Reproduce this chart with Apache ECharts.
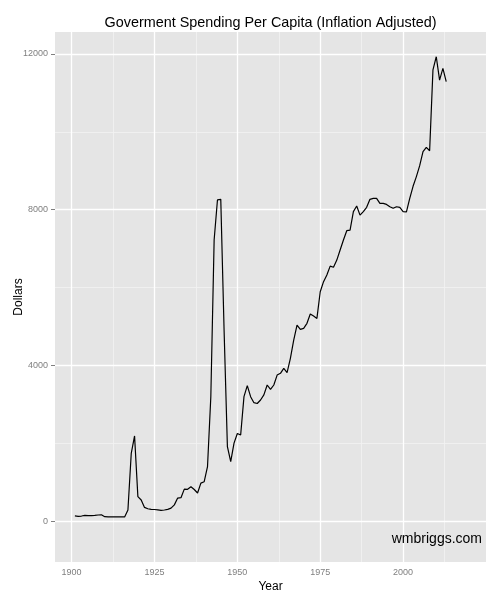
<!DOCTYPE html>
<html>
<head>
<meta charset="utf-8">
<script src="https://cdn.jsdelivr.net/npm/echarts@6/dist/echarts.min.js"></script>
<style>html,body{margin:0;padding:0;background:#fff}#c{width:500px;height:600px}</style>
</head>
<body>
<div id="c"></div>
<script>
// ---- data ----
var years = [];
for (var yr = 1901; yr <= 2013; yr++) years.push(yr);
var spending = [
  130,120,128,145,140,140,145,155,160,112,   // 1901-1910
  108,108,108,108,108,105,285,1740,2185,625, // 1911-1920
  540,350,316,300,296,285,272,283,300,330,   // 1921-1930
  415,590,600,820,815,880,810,720,975,1010,  // 1931-1940
  1395,3195,7220,8250,8265,4900,1910,1525,2000,2250, // 1941-1950
  2210,3195,3480,3195,3040,3020,3110,3240,3495,3380, // 1951-1960
  3495,3750,3795,3920,3810,4180,4650,5035,4925,4950, // 1961-1970
  5080,5320,5265,5205,5890,6150,6320,6550,6520,6705, // 1971-1980
  6965,7220,7460,7475,7950,8095,7860,7950,8060,8265, // 1981-1990
  8290,8290,8160,8160,8135,8075,8035,8075,8060,7950, // 1991-2000
  7945,8290,8600,8850,9130,9490,9600,9515,11590,11930, // 2001-2010
  11330,11630,11290                                   // 2011-2013
];
var xTicks = [1900, 1925, 1950, 1975, 2000];
var xMinor = [1912.5, 1937.5, 1962.5, 1987.5, 2012.5];
var yTicks = [0, 4000, 8000, 12000];
var yMinor = [2000, 6000, 10000];
var titleText = 'Goverment Spending Per Capita (Inflation Adjusted)';
var xName = 'Year', yName = 'Dollars', credit = 'wmbriggs.com';

// ---- chart ----
var points = years.map(function (y, i) { return [y, spending[i]]; });
var FONT = '"Liberation Sans", Arial, Helvetica, sans-serif';
var chart = echarts.init(document.getElementById('c'), null, {renderer: 'canvas'});

function gridLines(vals, key) { return vals.map(function (v) { var o = {}; o[key] = v; return o; }); }

chart.setOption({
  animation: false,
  backgroundColor: '#ffffff',
  textStyle: {fontFamily: FONT},
  grid: {left: 55, right: 14, top: 32, bottom: 38, show: true, backgroundColor: '#E5E5E5', borderWidth: 0},
  graphic: [
    {type: 'text', z: 100, x: 270.5, y: 23, style: {text: titleText, textAlign: 'center', textVerticalAlign: 'middle', font: '14.4px ' + FONT, fill: '#000'}},
    {type: 'text', z: 100, x: 482, y: 539, style: {text: credit, textAlign: 'right', textVerticalAlign: 'middle', font: '14px ' + FONT, fill: '#000'}}
  ],
  xAxis: {
    type: 'value', min: 1895, max: 2025,
    name: xName, nameLocation: 'middle', nameGap: 19, nameMoveOverlap: false,
    nameTextStyle: {fontSize: 12, color: '#000', fontFamily: FONT},
    axisLine: {show: false},
    axisTick: {show: true, length: 4, lineStyle: {color: '#7F7F7F'}, customValues: xTicks},
    axisLabel: {color: '#7F7F7F', fontSize: 9, margin: 6, customValues: xTicks, formatter: function (v) { return String(v); }},
    splitLine: {show: false}
  },
  yAxis: {
    type: 'value', min: -1053, max: 12565,
    name: yName, nameLocation: 'middle', nameGap: 30, nameMoveOverlap: false,
    nameTextStyle: {fontSize: 12, color: '#000', fontFamily: FONT},
    axisLine: {show: false},
    axisTick: {show: true, length: 4, lineStyle: {color: '#7F7F7F'}, customValues: yTicks},
    axisLabel: {color: '#7F7F7F', fontSize: 9, margin: 7, customValues: yTicks, formatter: function (v) { return String(v); }},
    splitLine: {show: false}
  },
  series: [
    {
      type: 'line', data: points, silent: true, showSymbol: false, z: 1,
      lineStyle: {opacity: 0},
      markLine: {silent: true, z: 1, symbol: ['none', 'none'], label: {show: false}, animation: false,
        lineStyle: {color: '#F2F2F2', width: 0.8, type: 'solid'},
        data: gridLines(xMinor, 'xAxis').concat(gridLines(yMinor, 'yAxis'))}
    },
    {
      type: 'line', data: points, silent: true, showSymbol: false, z: 1,
      lineStyle: {opacity: 0},
      markLine: {silent: true, z: 1, symbol: ['none', 'none'], label: {show: false}, animation: false,
        lineStyle: {color: '#FFFFFF', width: 1.3, type: 'solid'},
        data: gridLines(xTicks, 'xAxis').concat(gridLines(yTicks, 'yAxis'))}
    },
    {
      type: 'line', data: points, showSymbol: false, z: 10,
      lineStyle: {color: '#000000', width: 1.2}
    }
  ]
});
</script>
</body>
</html>
